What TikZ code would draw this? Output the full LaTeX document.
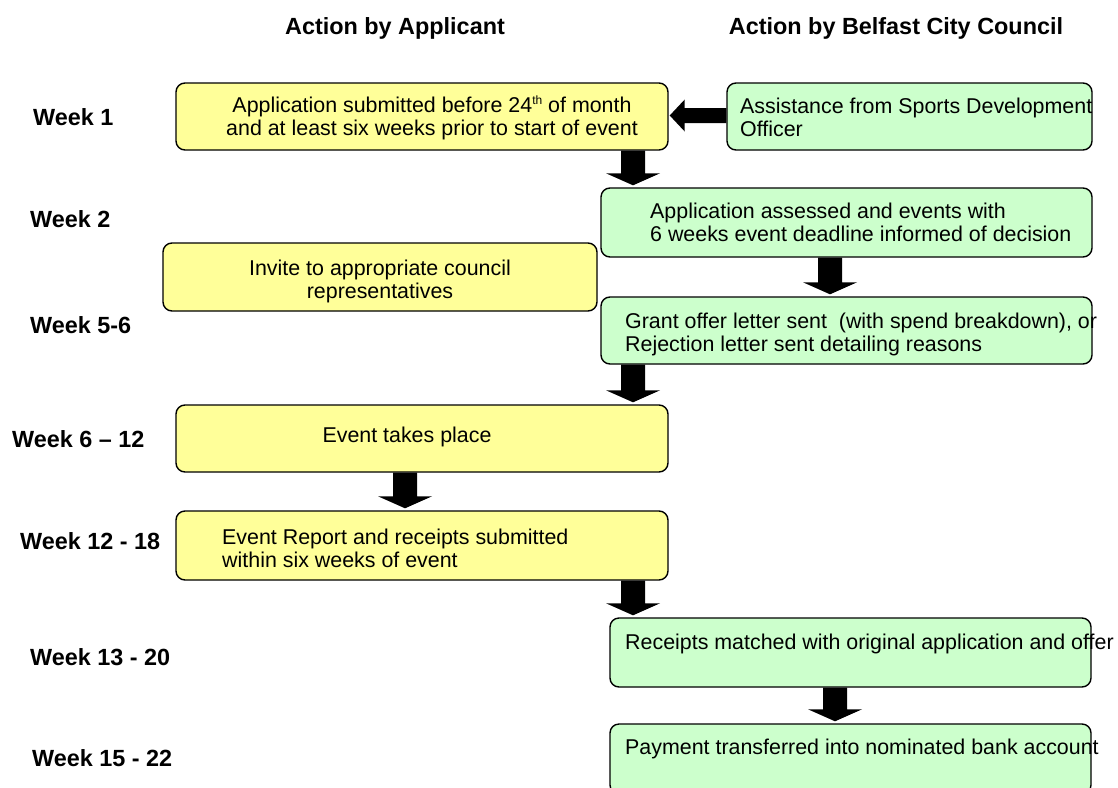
\documentclass[tikz,border=0pt]{standalone}
\usepackage{fontspec}
\setmainfont{Liberation Sans}
\usetikzlibrary{calc}
\definecolor{byellow}{HTML}{FFFF99}
\definecolor{bgreen}{HTML}{CCFFCC}
\tikzset{
  box/.style={draw=black, line width=1.4pt, rounded corners=9pt, inner sep=0pt},
  ybox/.style={box, fill=byellow},
  gbox/.style={box, fill=bgreen},
  body/.style={font=\fontsize{21.4}{23}\selectfont, inner sep=0pt},
  bodyl/.style={body, anchor=west, align=left},
  bodyc/.style={body, anchor=center, align=center},
  wk/.style={font=\fontsize{23.4}{26}\selectfont\bfseries, inner sep=0pt, anchor=west},
  hdr/.style={font=\fontsize{23.4}{26}\selectfont\bfseries, inner sep=0pt, anchor=center}
}
\newcommand\blkdown[3]{%
  \path (#1.south -| #3) coordinate (bs) (#2.north -| #3) coordinate (be);
  \fill[black] ($(bs)+(-12,0)$) -- ($(bs)+(12,0)$) -- ($(be)+(12,-14)$) -- ($(be)+(27,-14)$)
    -- ($(be)+(0,-2)$) -- ($(be)+(-27,-14)$) -- ($(be)+(-12,-14)$) -- cycle;}
\newcommand\blkleft[3]{%
  \path (#1.west |- #3) coordinate (bs) (#2.east |- #3) coordinate (be);
  \fill[black] ($(bs)+(0,-7.5)$) -- ($(bs)+(0,7.5)$) -- ($(be)+(16,7.5)$) -- ($(be)+(16,16)$)
    -- ($(be)+(1,0)$) -- ($(be)+(16,-16)$) -- ($(be)+(16,-7.5)$) -- cycle;}
\newcommand\supth{\raisebox{0.75ex}{\fontsize{12}{12}\selectfont th}}
\begin{document}
\begin{tikzpicture}[x=1pt,y=-1pt]
\useasboundingbox (0,0) rectangle (1118,787);
\clip (0,0) rectangle (1118,787);

% headers
\node[hdr] (h1) at (395,28.5) {Action by Applicant};
\node[hdr] (h2) at (896,28.5) {Action by Belfast City Council};

% week labels
\node[wk] (w1) at (33,117) {Week 1};
\node[wk] (w2) at (30,219) {Week 2};
\node[wk] (w3) at (30,325) {Week 5-6};
\node[wk] (w4) at (12,439) {Week 6 – 12};
\node[wk] (w5) at (20,541) {Week 12 - 18};
\node[wk] (w6) at (30,657) {Week 13 - 20};
\node[wk] (w7) at (32,758) {Week 15 - 22};

% boxes
\node[gbox, minimum width=365pt, minimum height=67pt] (b0) at (909.5,116.5) {};
\node[ybox, minimum width=492pt, minimum height=67pt] (b1) at (422,116.5) {};
\node[gbox, minimum width=491pt, minimum height=69pt] (b2) at (846.5,222.5) {};
\node[ybox, minimum width=434pt, minimum height=68pt] (b3) at (380,277) {};
\node[gbox, minimum width=491pt, minimum height=67pt] (b4) at (846.5,330.5) {};
\node[ybox, minimum width=492pt, minimum height=67pt] (b5) at (422,438.5) {};
\node[ybox, minimum width=492pt, minimum height=69pt] (b6) at (422,545.5) {};
\node[gbox, minimum width=481pt, minimum height=69pt] (b7) at (850.5,652.5) {};
\node[gbox, minimum width=481pt, minimum height=70pt] (b8) at (850.5,759) {};

% texts
\node[bodyl] (t0) at (740,117) {Assistance from Sports Development\\Officer};
\node[bodyc] (t1) at (432,118) {Application submitted before 24\supth{} of month\\and at least six weeks prior to start of event};
\node[bodyl] (t2) at (650,222) {Application assessed and events with\\6 weeks event deadline informed of decision};
\node[bodyc] (t3) at (380,281) {Invite to appropriate council\\representatives};
\node[bodyl] (t4) at (625,334) {Grant offer letter sent\ \ (with spend breakdown), or\\Rejection letter sent detailing reasons};
\node[bodyc] (t5) at (407,437) {Event takes place};
\node[bodyl] (t6) at (222,548) {Event Report and receipts submitted\\within six weeks of event};
\node[bodyl] (t7) at (625,644) {Receipts matched with original application and offer};
\node[bodyl] (t8) at (625,749) {Payment transferred into nominated bank account};

% arrow positions
\coordinate (xa) at (633,0);
\coordinate (xb) at (830,0);
\coordinate (xc) at (405,0);
\coordinate (xd) at (835,0);
\coordinate (ya) at (0,115.5);

% block arrows
\blkleft{b0}{b1}{ya}
\blkdown{b1}{b2}{xa}
\blkdown{b2}{b4}{xb}
\blkdown{b4}{b5}{xa}
\blkdown{b5}{b6}{xc}
\blkdown{b6}{b7}{xa}
\blkdown{b7}{b8}{xd}
\end{tikzpicture}
\end{document}
